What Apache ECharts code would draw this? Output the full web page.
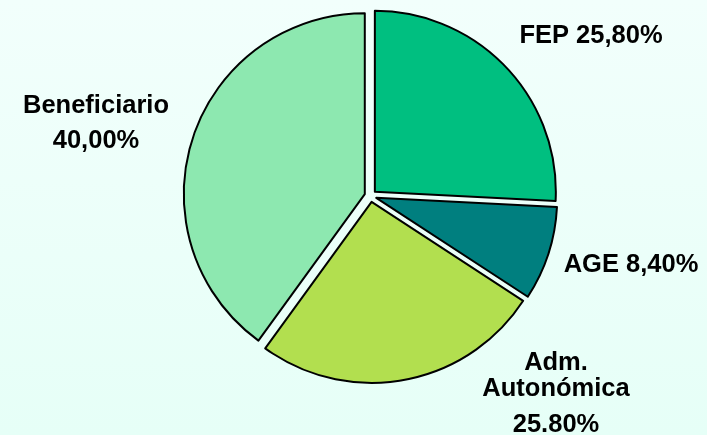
<!DOCTYPE html>
<html>
<head>
<meta charset="utf-8">
<script src="https://cdn.jsdelivr.net/npm/echarts@6/dist/echarts.min.js"></script>
<style>
  html, body { margin: 0; padding: 0; }
  #chart { width: 707px; height: 435px; }
</style>
</head>
<body>
<div id="chart"></div>
<script>
// datos del gráfico
const categories = ['FEP', 'AGE', 'Adm. Autonómica', 'Beneficiario'];
const values = [25.8, 8.4, 25.8, 40.0];
const labelTexts = [
  'FEP 25,80%',
  'AGE 8,40%',
  '{a|Adm.}\n{b|Autonómica}\n{c|25.80%}',
  'Beneficiario\n40,00%'
];
const colors = ['#00BF80', '#007F7F', '#B2DF4F', '#8DE8B0'];
// posición del centro de cada etiqueta
const labelPos = [[591, 36], [631, 265], [556, 399], [96, 123]];

const chart = echarts.init(document.getElementById('chart'));

const fontFamily = '"Liberation Sans", Arial, sans-serif';
const font = 'bold 25.5px ' + fontFamily;

// las etiquetas se colocan aparte: el estado "select" del pie pisa labelLayout
const labels = labelTexts.map((t, i) => ({
  type: 'text',
  x: labelPos[i][0],
  y: labelPos[i][1],
  style: {
    text: t,
    fill: '#000',
    font: font,
    align: 'center',
    verticalAlign: 'middle',
    lineHeight: 35,
    rich: {
      a: { font: font, lineHeight: 26 },
      b: { font: font, lineHeight: 26 },
      c: { font: font, lineHeight: 47 }
    }
  }
}));

chart.setOption({
  backgroundColor: new echarts.graphic.LinearGradient(0, 0, 0, 1, [
    { offset: 0, color: '#F2FFFC' },
    { offset: 1, color: '#E6FFF7' }
  ]),
  animation: false,
  graphic: labels,
  series: [
    {
      type: 'pie',
      center: [370.5, 196],
      radius: 181,
      startAngle: 90,
      clockwise: true,
      selectedMode: 'multiple',
      selectedOffset: 6,
      emphasis: { disabled: true },
      itemStyle: { borderColor: '#000', borderWidth: 2 },
      select: { itemStyle: { borderColor: '#000', borderWidth: 2 } },
      label: { show: false },
      labelLine: { show: false },
      data: categories.map((name, i) => ({
        name: name,
        value: values[i],
        selected: true,
        itemStyle: { color: colors[i] },
        select: { itemStyle: { color: colors[i] } }
      }))
    }
  ]
});
</script>
</body>
</html>
